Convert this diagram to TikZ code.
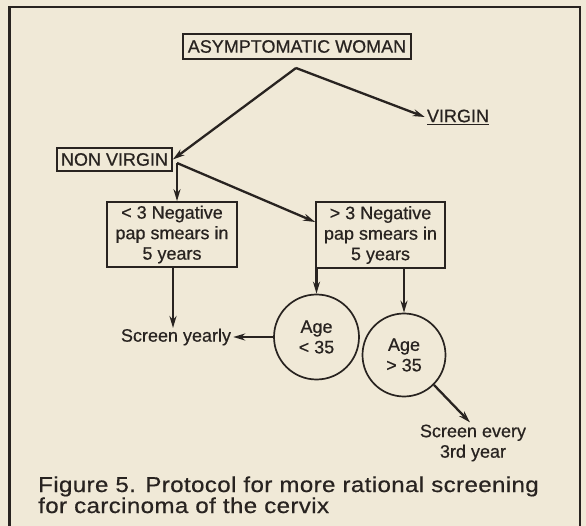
\documentclass[tikz,border=0pt]{standalone}
\usepackage{fontspec}
\setmainfont{Liberation Sans}[FakeBold=0.6]
\newfontfamily\capfont[FakeStretch=1.12,LetterSpace=1.8,FakeBold=0.6]{Liberation Sans}
\usetikzlibrary{arrows.meta}
\definecolor{paper}{RGB}{240,233,215}
\definecolor{ink}{RGB}{40,35,32}
\tikzset{
  lbl/.style={text=ink,font=\fontsize{18}{20.5}\selectfont,inner sep=2pt},
  boxnode/.style={lbl,draw=ink,line width=1.7pt,inner sep=0pt,align=center},
  circnode/.style={lbl,draw=ink,line width=1.7pt,circle,inner sep=0pt,align=center},
  conn/.style={draw=ink,line width=2.3pt,-{Stealth[length=12pt,width=7pt]}},
  captxt/.style={text=ink,font=\capfont\fontsize{21.5}{21}\selectfont,inner sep=0pt,anchor=base west}
}
\begin{document}
\begin{tikzpicture}[x=1pt,y=-1pt]
\useasboundingbox (0,0) rectangle (586,526);
\fill[paper] (0,0) rectangle (586,526);
\draw[ink,line width=2.2pt] (9.5,7) rectangle (580,545);

\node[boxnode,minimum width=228pt,minimum height=25pt] (asym) at (297,46.5) {ASYMPTOMATIC WOMAN};
\node[lbl] (virgin) at (458,117) {\underline{VIRGIN}};
\node[boxnode,minimum width=115pt,minimum height=22.5pt] (nonv) at (114.5,159.5) {NON VIRGIN};
\node[boxnode,minimum width=130pt,minimum height=65pt] (lt3) at (172,234.5) {< 3 Negative\\pap smears in\\5 years};
\node[boxnode,minimum width=129pt,minimum height=66pt] (gt3) at (380.5,235) {> 3 Negative\\pap smears in\\5 years};
\node[lbl] (yearly) at (176,337) {Screen yearly};
\node[circnode,minimum size=85pt] (c1) at (316.5,337) {Age\\< 35};
\node[circnode,minimum size=83pt] (c2) at (404,355) {Age\\> 35};
\node[lbl,align=center] (every) at (473,443) {Screen every\\3rd year};

\node[captxt] (cap1) at (38,492) {Figure 5. Protocol for more rational screening};
\node[captxt] (cap2) at (38,513) {for carcinoma of the cervix};

\coordinate (apex) at (296,68);
\coordinate (fork) at (177,163);
\draw[conn] (apex) -- (nonv.east);
\draw[conn] (apex) -- (virgin.west);
\draw[conn] (fork) -- (fork |- lt3.north);
\draw[conn] (fork) -- ([yshift=13pt]gt3.west);
\draw[conn] (lt3.south -| 173,0) -- (173,328);
\draw[conn] (c1.west) -- (yearly.east);
\draw[conn] (c1.north |- gt3.south) -- (c1.north);
\draw[conn] (c2.north |- gt3.south) -- (c2.north);
\draw[conn] (c2.-45) -- ([xshift=-3pt]every.north);
\end{tikzpicture}
\end{document}
